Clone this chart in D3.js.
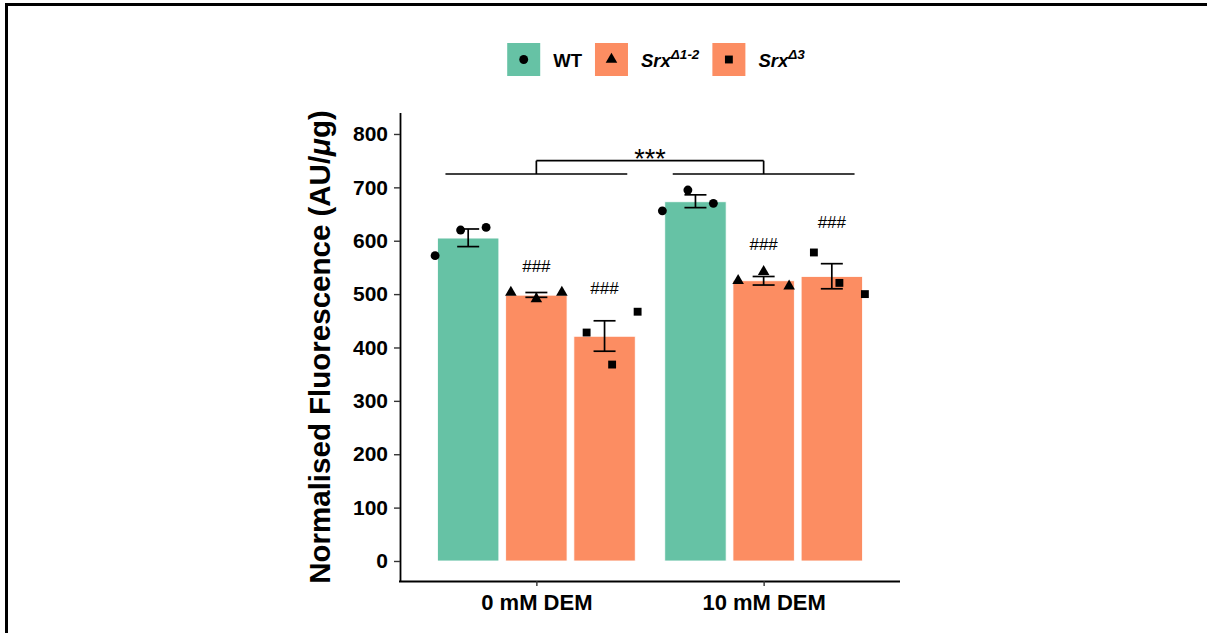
<!DOCTYPE html>
<html>
<head>
<meta charset="utf-8">
<script src="https://cdn.jsdelivr.net/npm/d3@7"></script>
<style>
  body { margin: 0; background: #fff; }
  text { font-family: "Liberation Sans", Arial, Helvetica, sans-serif; }
</style>
</head>
<body>
<div id="chart"></div>
<script>
// data
var groups = ["0 mM DEM", "10 mM DEM"];
var genotypes = ["WT", "Srx12", "Srx3"];
var genoColors = ["#66c2a5", "#fc8d62", "#fc8d62"];
var genoShapes = ["circle", "triangle", "square"];

// one entry per bar: group 0 (WT, Srx1-2, Srx3), then group 1
var barGroup = [0, 0, 0, 1, 1, 1];
var barGeno = [0, 1, 2, 0, 1, 2];
var barMeans = [605, 498, 421, 673, 525, 533];
var errLow = [589, 494, 393, 662, 517, 510];
var errHigh = [622, 503, 450, 686, 533, 557];
var replicates = [
  [572, 620, 625],
  [503, 491, 503],
  [428, 368, 467],
  [656, 695, 670],
  [525, 542, 515],
  [578, 521, 500]
];
var hashLabels = ["", "###", "###", "", "###", "###"];
var hashAt = [0, 541, 501, 0, 583, 624];

var yTicks = [0, 100, 200, 300, 400, 500, 600, 700, 800];
var bracketLow = 725, bracketHigh = 750;

var W = 1207, H = 633;
var svg = d3.select("#chart").append("svg")
  .attr("width", W)
  .attr("height", H);

// page frame (top and left edges only)
svg.append("line").attr("x1", 5).attr("x2", W).attr("y1", 4.5).attr("y2", 4.5)
  .style("stroke", "#000").style("stroke-width", 3);
svg.append("line").attr("x1", 6.5).attr("x2", 6.5).attr("y1", 3).attr("y2", H)
  .style("stroke", "#000").style("stroke-width", 3);

var panel = { left: 400, right: 900, top: 113, bottom: 581 };

var x = d3.scalePoint().domain(groups)
  .range([panel.left, panel.right]).padding(0.6);
var unit = x.step();

// bars dodge inside 0.9 of a unit
var xBar = d3.scaleBand().domain(genotypes)
  .range([-0.45 * unit, 0.45 * unit]).paddingInner(0.1).paddingOuter(0.05);
// points dodge inside a full unit
var xPt = d3.scaleBand().domain(genotypes)
  .range([-0.5 * unit, 0.5 * unit]);
var jitter = d3.scalePoint().domain([0, 1, 2]).range([-25.5, 25.5]);

var y = d3.scaleLinear().domain([-37.5, 839.3]).range([panel.bottom, panel.top]);

function barCenter(i) {
  return x(groups[barGroup[i]]) + xBar(genotypes[barGeno[i]]) + xBar.bandwidth() / 2;
}

// bars
svg.append("g").selectAll("rect")
  .data(barMeans)
  .join("rect")
  .attr("x", function(d, i) { return x(groups[barGroup[i]]) + xBar(genotypes[barGeno[i]]); })
  .attr("width", xBar.bandwidth())
  .attr("y", function(d) { return y(d); })
  .attr("height", function(d) { return y(0) - y(d); })
  .style("fill", function(d, i) { return genoColors[barGeno[i]]; })
  .style("stroke", "#fff")
  .style("stroke-width", 0.8);

// error bars
var capW = 11;
var eb = svg.append("g").style("stroke", "#000").style("stroke-width", 1.7).style("fill", "none");
barMeans.forEach(function(m, i) {
  var cx = barCenter(i);
  eb.append("line").attr("x1", cx).attr("x2", cx).attr("y1", y(errLow[i])).attr("y2", y(errHigh[i]));
  eb.append("line").attr("x1", cx - capW).attr("x2", cx + capW).attr("y1", y(errLow[i])).attr("y2", y(errLow[i]));
  eb.append("line").attr("x1", cx - capW).attr("x2", cx + capW).attr("y1", y(errHigh[i])).attr("y2", y(errHigh[i]));
});

// points
var symbolFor = {
  circle: d3.symbol().type(d3.symbolCircle).size(62),
  triangle: d3.symbol().type(d3.symbolTriangle).size(58),
  square: d3.symbol().type(d3.symbolSquare).size(62)
};
var pts = svg.append("g");
replicates.forEach(function(reps, i) {
  var cx = x(groups[barGroup[i]]) + xPt(genotypes[barGeno[i]]) + xPt.bandwidth() / 2;
  pts.selectAll(null)
    .data(reps)
    .join("path")
    .attr("d", symbolFor[genoShapes[barGeno[i]]]())
    .attr("transform", function(v, j) { return "translate(" + (cx + jitter(j)) + "," + y(v) + ")"; })
    .style("fill", "#000");
});

// ### labels
var hashIdx = d3.range(hashLabels.length).filter(function(i) { return hashLabels[i] !== ""; });
svg.append("g").selectAll("text")
  .data(hashIdx)
  .join("text")
  .attr("x", function(i) { return barCenter(i); })
  .attr("y", function(i) { return y(hashAt[i]); })
  .attr("text-anchor", "middle")
  .style("font-size", "17px")
  .style("fill", "#000")
  .text(function(i) { return hashLabels[i]; });

// significance bracket between groups
var br = svg.append("g").style("stroke", "#000").style("stroke-width", 1.7).style("fill", "none");
groups.forEach(function(g) {
  br.append("line").attr("x1", x(g) - 0.4 * unit).attr("x2", x(g) + 0.4 * unit)
    .attr("y1", y(bracketLow)).attr("y2", y(bracketLow));
  br.append("line").attr("x1", x(g)).attr("x2", x(g))
    .attr("y1", y(bracketLow)).attr("y2", y(bracketHigh));
});
br.append("line").attr("x1", x(groups[0])).attr("x2", x(groups[1]))
  .attr("y1", y(bracketHigh)).attr("y2", y(bracketHigh));
svg.append("text")
  .attr("x", (x(groups[0]) + x(groups[1])) / 2)
  .attr("y", y(bracketHigh) + 7)
  .attr("text-anchor", "middle")
  .style("font-size", "27px")
  .text("***");

// axes
var yAxis = svg.append("g")
  .attr("transform", "translate(" + panel.left + ",0)")
  .call(d3.axisLeft(y).tickValues(yTicks).tickSize(6).tickPadding(6).tickSizeOuter(0));
yAxis.select(".domain").attr("d", "M0.5," + panel.top + "V" + panel.bottom);
var xAxis = svg.append("g")
  .attr("transform", "translate(0," + panel.bottom + ")")
  .call(d3.axisBottom(x).tickSize(5).tickPadding(8).tickSizeOuter(0));
xAxis.select(".domain").attr("d", "M" + (panel.left - 1) + ",0.5H" + panel.right);

[yAxis, xAxis].forEach(function(a) {
  a.selectAll(".domain").style("stroke", "#000").style("stroke-width", 1.8);
  a.selectAll(".tick line").style("stroke", "#333").style("stroke-width", 1.4);
  a.selectAll("text").style("font-family", "'Liberation Sans', Arial, sans-serif")
    .style("font-weight", "bold").style("fill", "#000");
});
yAxis.selectAll("text").style("font-size", "21px");
xAxis.selectAll("text").style("font-size", "22px");

// y axis title
var yTitle = svg.append("text")
  .attr("transform", "translate(320," + ((panel.top + panel.bottom) / 2) + ") rotate(-90)")
  .attr("text-anchor", "middle")
  .attr("dy", "0.35em")
  .style("font-size", "29.5px")
  .style("font-weight", "bold");
yTitle.append("tspan").text("Normalised Fluorescence (AU/");
yTitle.append("tspan").style("font-style", "italic").text("\u03bc");
yTitle.append("tspan").text("g)");

// legend
var legend = svg.append("g");
var keySize = 33;
var legendLabels = [
  { main: "WT", sup: "", italic: false },
  { main: "Srx", sup: "\u03941-2", italic: true },
  { main: "Srx", sup: "\u03943", italic: true }
];
var cursor = 0;
legendLabels.forEach(function(lab, i) {
  var item = legend.append("g").attr("transform", "translate(" + cursor + ",0)");
  item.append("rect").attr("width", keySize).attr("height", keySize)
    .style("fill", genoColors[i]);
  item.append("path")
    .attr("d", symbolFor[genoShapes[i]]())
    .attr("transform", "translate(" + keySize / 2 + "," + keySize / 2 + ")")
    .style("fill", "#000");
  var t = item.append("text")
    .attr("x", keySize + 13)
    .attr("y", keySize / 2 + 7)
    .style("font-size", "18.5px")
    .style("font-weight", "bold")
    .style("font-style", lab.italic ? "italic" : "normal");
  t.append("tspan").text(lab.main);
  if (lab.sup) {
    t.append("tspan").attr("dy", -8).style("font-size", "13.5px").text(lab.sup);
  }
  cursor += keySize + 13 + t.node().getComputedTextLength() + 13;
});
var legendW = cursor - 13;
legend.attr("transform", "translate(" + (656 - legendW / 2) + ",43)");
</script>
</body>
</html>
